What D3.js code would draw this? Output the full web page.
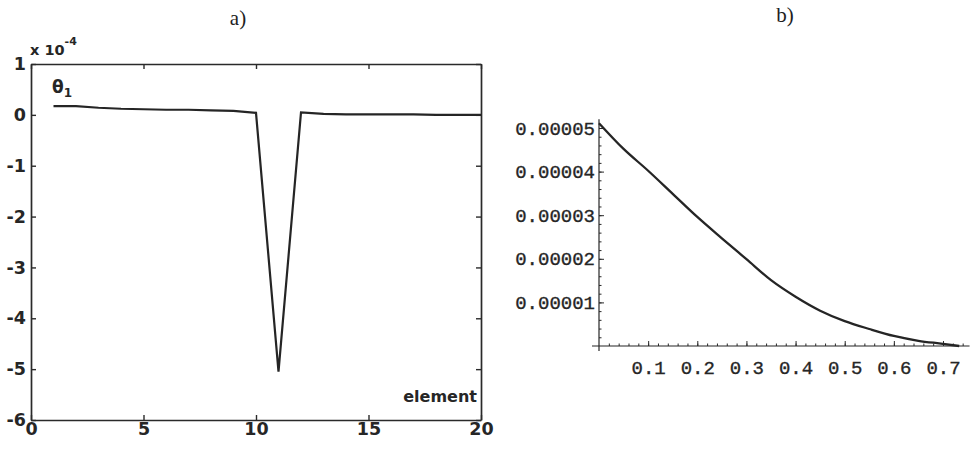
<!DOCTYPE html>
<html>
<head>
<meta charset="utf-8">
<script src="https://cdn.jsdelivr.net/npm/d3@7"></script>
<style>
  body { margin: 0; background: #fff; }
  .axA text { font-family: "DejaVu Sans", Arial, sans-serif; font-size: 17.5px; font-weight: bold; fill: #262626; }
  .axB text { font-family: "Liberation Mono", "Courier New", monospace; font-size: 19px; fill: #262626; stroke: #262626; stroke-width: 0.35px; }
  .axA path, .axA line, .axB path, .axB line { stroke: #2a2a2a; }
</style>
</head>
<body>
<div id="chart"></div>
<script>
// paneel a): theta_1 per element (x 10^-4)
const elementen = d3.range(1, 21);
const theta1 = [0.17, 0.17, 0.14, 0.12, 0.11, 0.10, 0.10, 0.09, 0.08, 0.04,
                -5.05, 0.05, 0.02, 0.01, 0.01, 0.01, 0.01, 0.0, 0.0, 0.0];
const ticksAy = [-6, -5, -4, -3, -2, -1, 0, 1];
const ticksAx = [0, 5, 10, 15, 20];

// paneel b): curve
const bX = [0, 0.05, 0.1, 0.15, 0.2, 0.25, 0.3, 0.35, 0.4, 0.45, 0.5, 0.55, 0.6, 0.65, 0.7, 0.733];
const bY = [51.1, 45.2, 40.2, 34.9, 29.6, 24.7, 19.9, 15.1, 11.3, 8.1, 5.7, 3.9, 2.3, 1.2, 0.5, 0.0].map(v => v * 1e-6);
const ticksBy = [1e-5, 2e-5, 3e-5, 4e-5, 5e-5];
const ticksBx = [0.1, 0.2, 0.3, 0.4, 0.5, 0.6, 0.7];

const ink = "#252525";
const svg = d3.select("#chart").append("svg")
    .attr("width", 972)
    .attr("height", 451);

// ---------- a) ----------
const xA = d3.scaleLinear().domain([0, 20]).range([31, 481]);
const yA = d3.scaleLinear().domain([-6, 1]).range([420, 64]);
const fmtA = d => String(d); // gewone min-teken, zoals in het origineel

const gA = svg.append("g");
gA.append("g").attr("class", "axA")
    .attr("transform", `translate(${xA(0)},0)`)
    .call(d3.axisLeft(yA).tickValues(ticksAy).tickSizeInner(-5).tickSizeOuter(0).tickPadding(5).tickFormat(fmtA));
gA.append("g").attr("class", "axA")
    .attr("transform", `translate(0,${yA(-6)})`)
    .call(d3.axisBottom(xA).tickValues(ticksAx).tickSizeInner(-5).tickSizeOuter(0).tickPadding(3).tickFormat(fmtA));
gA.append("g").attr("class", "axA")
    .attr("transform", `translate(0,${yA(1)})`)
    .call(d3.axisTop(xA).tickValues(ticksAx).tickSizeInner(-5).tickSizeOuter(0).tickFormat(""));
gA.append("g").attr("class", "axA")
    .attr("transform", `translate(${xA(20)},0)`)
    .call(d3.axisRight(yA).tickValues(ticksAy).tickSizeInner(-5).tickSizeOuter(0).tickFormat(""));
gA.selectAll(".domain").attr("stroke-width", 1.7);
gA.selectAll(".tick line").attr("stroke-width", 1.4);

gA.append("path")
    .datum(elementen.map((e, i) => [e, theta1[i]]))
    .attr("fill", "none")
    .attr("stroke", ink)
    .attr("stroke-width", 2.2)
    .attr("stroke-linejoin", "miter")
    .attr("d", d3.line().x(d => xA(d[0])).y(d => yA(d[1])));

const sans = "'DejaVu Sans', Arial, sans-serif";
const expo = gA.append("text")
    .attr("x", 30).attr("y", 55)
    .attr("font-family", sans).attr("font-size", 14.5).attr("font-weight", "bold").attr("fill", "#262626");
expo.append("tspan").text("x 10");
expo.append("tspan").attr("font-size", 11).attr("dy", -10).text("-4");

const th = gA.append("text")
    .attr("x", 52).attr("y", 93)
    .attr("font-family", sans).attr("font-size", 17).attr("font-weight", "bold").attr("fill", "#262626");
th.append("tspan").text("θ");
th.append("tspan").attr("font-size", 12).attr("dy", 4).text("1");

gA.append("text")
    .attr("x", 477).attr("y", 402)
    .attr("text-anchor", "end")
    .attr("font-family", sans).attr("font-size", 16).attr("font-weight", "bold").attr("fill", "#262626")
    .text("element");

svg.append("text")
    .attr("x", 238).attr("y", 25)
    .attr("text-anchor", "middle")
    .attr("font-family", "'Liberation Serif', 'Times New Roman', serif")
    .attr("font-size", 21).attr("fill", "#1e1e1e")
    .text("a)");

// ---------- b) ----------
const xB = d3.scaleLinear().domain([0, 0.7]).range([599, 943]);
const yB = d3.scaleLinear().domain([0, 5e-5]).range([346, 128]);

const gB = svg.append("g");
// minor ticks
gB.append("g").attr("class", "axB")
    .attr("transform", `translate(${xB(0)},0)`)
    .call(d3.axisLeft(yB).tickValues(d3.range(1, 26).map(i => i * 2e-6)).tickSize(-2.5).tickFormat(""))
    .select(".domain").remove();
gB.append("g").attr("class", "axB")
    .attr("transform", `translate(0,${yB(0)})`)
    .call(d3.axisBottom(xB).tickValues(d3.range(1, 38).map(i => i * 0.02)).tickSize(-2.5).tickFormat(""))
    .select(".domain").remove();
// major ticks + labels
gB.append("g").attr("class", "axB")
    .attr("transform", `translate(${xB(0)},0)`)
    .call(d3.axisLeft(yB).tickValues(ticksBy).tickSizeInner(-5).tickSizeOuter(0).tickPadding(4).tickFormat(d3.format(".5f")))
    .select(".domain").remove();
gB.append("g").attr("class", "axB")
    .attr("transform", `translate(0,${yB(0)})`)
    .call(d3.axisBottom(xB).tickValues(ticksBx).tickSizeInner(-5).tickSizeOuter(0).tickPadding(15).tickFormat(d3.format(".1f")))
    .select(".domain").remove();
gB.selectAll(".tick line").attr("stroke-width", 1);

// assen (Mathematica-stijl, kruisen in de oorsprong)
gB.append("line")
    .attr("x1", xB(0)).attr("x2", xB(0))
    .attr("y1", yB(5.2e-5)).attr("y2", yB(0) + 5)
    .attr("stroke", ink).attr("stroke-width", 1.2);
gB.append("line")
    .attr("x1", xB(0) - 7).attr("x2", xB(0.754))
    .attr("y1", yB(0)).attr("y2", yB(0))
    .attr("stroke", ink).attr("stroke-width", 1.2);

gB.append("path")
    .datum(bX.map((x, i) => [x, bY[i]]))
    .attr("fill", "none")
    .attr("stroke", ink)
    .attr("stroke-width", 2.3)
    .attr("d", d3.line().x(d => xB(d[0])).y(d => yB(d[1])).curve(d3.curveMonotoneX));

svg.append("text")
    .attr("x", 785).attr("y", 22)
    .attr("text-anchor", "middle")
    .attr("font-family", "'Liberation Serif', 'Times New Roman', serif")
    .attr("font-size", 21).attr("fill", "#1e1e1e")
    .text("b)");
</script>
</body>
</html>
